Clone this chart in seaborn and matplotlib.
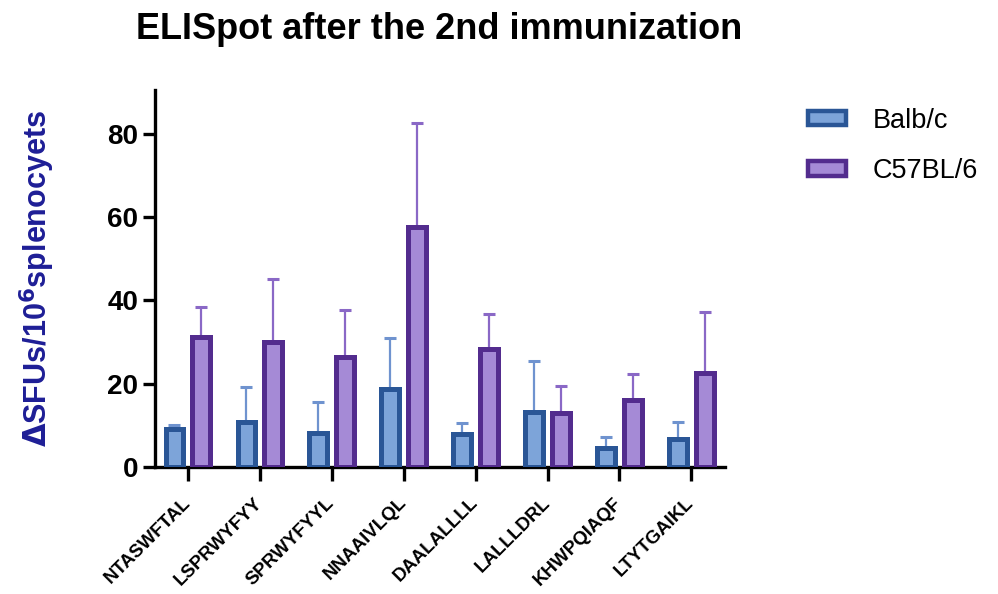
import numpy as np
import pandas as pd
import matplotlib
matplotlib.use("Agg")
import matplotlib.pyplot as plt
import seaborn as sns

# values (mean and upper SD)
peptides = ["NTASWFTAL", "LSPRWYFYY", "SPRWYFYYL", "NNAAIVLQL",
            "DAALALLLL", "LALLLDRL", "KHWPQIAQF", "LTYTGAIKL"]
strains = ["Balb/c", "C57BL/6"]
balb_mean = [9.2, 10.8, 8.2, 18.6, 7.9, 13.3, 4.6, 6.7]
balb_sd = [0.8, 8.3, 7.5, 12.3, 2.6, 12.2, 2.6, 4.1]
c57_mean = [31.3, 29.9, 26.5, 57.7, 28.3, 13.0, 16.0, 22.6]
c57_sd = [7.2, 15.2, 11.1, 25.0, 8.4, 6.4, 6.4, 14.6]

edge_colors = ["#2A5696", "#532C8E"]
fill_colors = ["#7DA4D9", "#A58AD6"]
err_colors = ["#6F93CF", "#8A68C6"]

sns.set_style("ticks")
plt.rcParams["font.family"] = ["Liberation Sans", "DejaVu Sans"]
plt.rcParams["text.color"] = "black"
plt.rcParams["xtick.color"] = "black"
plt.rcParams["ytick.color"] = "black"
plt.rcParams["axes.edgecolor"] = "black"

df = pd.DataFrame({
    "peptide": peptides * 2,
    "strain": [strains[0]] * len(peptides) + [strains[1]] * len(peptides),
    "value": balb_mean + c57_mean,
})

fig = plt.figure(figsize=(9.98, 5.94), dpi=100)
ax = fig.add_axes([0.155, 0.214, 0.571, 0.634])

sns.barplot(data=df, x="peptide", y="value", hue="strain", order=peptides,
            hue_order=strains, palette=fill_colors, saturation=1,
            errorbar=None, width=0.74, gap=0.33, linewidth=3.6, ax=ax,
            zorder=3)

# outline colour per strain and the upper-only error bars
n = len(peptides)
for i, (means, sds) in enumerate([(balb_mean, balb_sd), (c57_mean, c57_sd)]):
    bars = ax.patches[i * n:(i + 1) * n]
    xs = []
    for b in bars:
        b.set_edgecolor(edge_colors[i])
        xs.append(b.get_x() + b.get_width() / 2)
    ax.errorbar(xs, means, yerr=[np.zeros(n), sds], fmt="none",
                ecolor=err_colors[i], elinewidth=1.6, capsize=4.5,
                capthick=2.2, zorder=2)

ax.set_ylim(0, 90.5)
ax.set_xlim(-0.46, n - 0.54)
ax.set_yticks([0, 20, 40, 60, 80])
ax.set_xlabel("")
ax.set_ylabel(r"$\mathbf{\Delta}$SFUs/10$^{\mathbf{6}}$splenocyets",
              fontsize=22, fontweight="bold", color="#1E1E96", labelpad=36)
sns.despine(ax=ax)
for s in ["left", "bottom"]:
    ax.spines[s].set_linewidth(2.4)
ax.tick_params(axis="both", width=2.4, length=9)
ax.tick_params(axis="y", labelsize=20, pad=3)
for lab in ax.get_yticklabels():
    lab.set_fontweight("bold")
ax.set_xticks(range(n))
ax.set_xticklabels(peptides, rotation=45, ha="right", va="center",
                   rotation_mode="anchor", fontsize=13.5, fontweight="bold")
ax.tick_params(axis="x", length=10, pad=14)

handles, labels = ax.get_legend_handles_labels()
for h, ec in zip(handles, edge_colors):
    h.set_edgecolor(ec)
    h.set_linewidth(3.2)
ax.legend(handles, labels, loc="upper left", bbox_to_anchor=(0.785, 0.86),
          bbox_transform=fig.transFigure, frameon=False, fontsize=19.5,
          handlelength=1.4, handleheight=0.45, handletextpad=1.0,
          labelspacing=0.9)

fig.suptitle("ELISpot after the 2nd immunization", x=0.44, y=0.98,
             fontsize=26, fontweight="bold")

fig.savefig("out.png", dpi=100)
